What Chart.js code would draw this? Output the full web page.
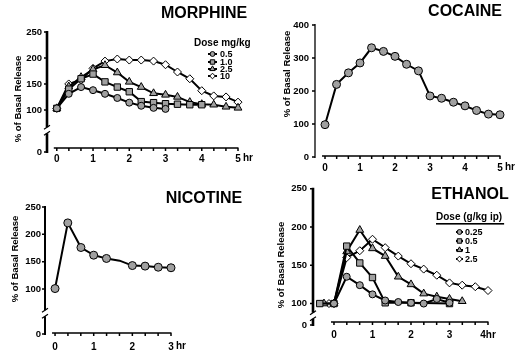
<!DOCTYPE html>
<html>
<head>
<meta charset="utf-8">
<script src="https://cdn.jsdelivr.net/npm/chart.js@4.4.0/dist/chart.umd.min.js"></script>
<style>
html, body { margin: 0; padding: 0; background: #fff; }
#fig { position: relative; width: 516px; height: 354px; }
#fig canvas { position: absolute; }
</style>
</head>
<body>
<div id="fig">
  <canvas id="morphineChart" width="258" height="177" style="left:0;top:0;width:258px;height:177px"></canvas>
  <canvas id="cocaineChart" width="258" height="177" style="left:258px;top:0;width:258px;height:177px"></canvas>
  <canvas id="nicotineChart" width="258" height="177" style="left:0;top:177px;width:258px;height:177px"></canvas>
  <canvas id="ethanolChart" width="258" height="177" style="left:258px;top:177px;width:258px;height:177px"></canvas>
</div>
<script>
// Dopamine release panels (4 drugs), % of basal release vs time

const FONT = "'Liberation Sans', Arial, Helvetica, sans-serif";
const GRAY = '#a0a0a0';

// --- Morphine (20 min samples) ---
const morphineTime = [0, 0.33, 0.67, 1, 1.33, 1.67, 2, 2.33, 2.67, 3, 3.33, 3.67, 4, 4.33, 4.67, 5];
const morphine05 = [103, 131, 144, 138, 131, 123, 114, 108, 104, 102];
const morphine1 = [103, 140, 160, 169, 154, 144, 135, 116, 114, 112, 111, 110, 110];
const morphine25 = [103, 145, 163, 178, 186, 172, 154, 144, 132, 129, 125, 115, 111, 110, 106, 104];
const morphine10 = [103, 150, 158, 180, 194, 198, 196, 196, 194, 187, 173, 160, 137, 127, 125, 115];
const morphineDoses = ['0.5', '1.0', '2.5', '10'];
const morphineYTicks = [0, 100, 150, 200, 250];
const morphineXLabels = [0, 1, 2, 3, 4, 5];

// --- Cocaine ---
const cocaineTime = [0, 0.33, 0.67, 1, 1.33, 1.67, 2, 2.33, 2.67, 3, 3.33, 3.67, 4, 4.33, 4.67, 5];
const cocaine = [98, 220, 255, 285, 331, 320, 305, 281, 261, 185, 178, 166, 155, 141, 130, 128];
const cocaineYTicks = [0, 100, 200, 300, 400];
const cocaineXLabels = [0, 1, 2, 3, 4, 5];

// --- Nicotine ---
const nicotineTime = [0, 0.33, 0.67, 1, 1.33, 1.67, 2, 2.33, 2.67, 3];
const nicotine = [101, 221, 176, 162, 156, 152, 143, 142, 140, 139];
const nicotineYTicks = [0, 100, 150, 200, 250];
const nicotineXLabels = [0, 1, 2, 3];

// --- Ethanol (g/kg ip) ---
const ethanolTime025 = [0, 0.33, 0.67, 1, 1.33, 1.67, 2, 2.33, 2.67, 3];
const ethanol025 = [100, 135, 124, 112, 104, 102, 101, 100, 106, 101];
const ethanolTime05 = [-0.37, 0, 0.33, 0.67, 1, 1.33, 2, 3];
const ethanol05 = [100, 100, 175, 153, 134, 101, 101, 100];
const ethanolTime1 = [-0.26, 0, 0.33, 0.67, 1, 1.33, 1.67, 2, 2.33, 2.67, 3, 3.33];
const ethanol1 = [100, 100, 168, 196, 172, 162, 135, 125, 113, 109, 106, 103];
const ethanolTime25 = [-0.13, 0, 0.33, 0.67, 1, 1.33, 1.67, 2, 2.33, 2.67, 3, 3.33, 3.67, 4];
const ethanol25 = [100, 100, 160, 169, 184, 173, 162, 152, 145, 137, 127, 124, 122, 117];
const ethanolDoses = ['0.25', '0.5', '1', '2.5'];
const ethanolYTicks = [0, 100, 150, 200, 250];
const ethanolXLabels = [0, 1, 2, 3, 4];
const ethanolXText = ['0', '1', '2', '3', '4hr'];

// marker styles, one per dose level
const MARKERS = [
    { pointStyle: 'circle', radius: 3.5, fill: GRAY },
    { pointStyle: 'rect', radius: 4.5, fill: GRAY },
    { pointStyle: 'triangle', radius: 4.5, fill: GRAY },
    { pointStyle: 'rectRot', radius: 4, fill: '#fff' }
];

function toXY(time, values) {
    return values.map((v, i) => ({ x: time[i], y: v }));
}

function series(label, points, marker) {
    return {
        label: label,
        data: points,
        borderColor: '#000',
        borderWidth: 2,
        tension: 0,
        clip: false,
        pointStyle: marker.pointStyle,
        pointRadius: marker.radius,
        pointBackgroundColor: marker.fill,
        pointBorderColor: '#000',
        pointBorderWidth: 1
    };
}

// every 20 min tick along the time axis
function thirdTicks(maxHr) {
    const out = [];
    for (let k = 0; k <= maxHr * 3; k++) out.push(k / 3);
    return out;
}

// axes, axis break, titles and legend
const panelPlugin = {
    id: 'panel',
    beforeDatasetsDraw(chart, args, p) {
        const ctx = chart.ctx;
        const xs = chart.scales.x, ys = chart.scales.y;
        const ax = chart.chartArea.left;
        const top = ys.getPixelForValue(ys.max);
        const bottom = ys.getPixelForValue(ys.min);
        ctx.save();
        ctx.strokeStyle = '#000';
        ctx.lineCap = 'butt';

        // y axis (with optional break)
        ctx.lineWidth = p.yAxisWidth;
        ctx.beginPath();
        if (p.breakValue) {
            const bp = ys.getPixelForValue(p.breakValue);
            ctx.moveTo(ax, top - 1); ctx.lineTo(ax, bp - 3);
            ctx.moveTo(ax, bp + 3); ctx.lineTo(ax, bottom + 1);
            ctx.stroke();
            ctx.lineWidth = 1.2;
            ctx.beginPath();
            [bp - 3, bp + 3].forEach(c => {
                ctx.moveTo(ax - 3, c + 2);
                ctx.lineTo(ax + 3, c - 2);
            });
        } else {
            ctx.moveTo(ax, top - 1); ctx.lineTo(ax, bottom + 1);
        }
        ctx.stroke();

        // y tick marks
        ctx.lineWidth = 1.5;
        ctx.beginPath();
        ys.ticks.forEach(t => {
            const y = ys.getPixelForValue(t.value);
            ctx.moveTo(ax - 3, y); ctx.lineTo(ax, y);
        });
        ctx.stroke();

        // x axis, offset from the y axis
        const y0 = chart.chartArea.bottom - p.xLift;
        ctx.lineWidth = 1.5;
        ctx.beginPath();
        ctx.moveTo(xs.getPixelForValue(0) - 3, y0);
        ctx.lineTo(xs.getPixelForValue(xs.max) + 0.5, y0);
        xs.ticks.forEach(t => {
            const x = xs.getPixelForValue(t.value);
            ctx.moveTo(x, y0); ctx.lineTo(x, y0 + 3);
        });
        ctx.stroke();
        ctx.restore();
    },
    afterDraw(chart, args, p) {
        const ctx = chart.ctx;
        const xs = chart.scales.x;
        ctx.save();
        ctx.fillStyle = '#000';

        ctx.font = 'bold 16px ' + FONT;
        ctx.textAlign = 'center';
        ctx.textBaseline = 'middle';
        ctx.fillText(p.title, p.titleX, p.titleY);

        ctx.save();
        ctx.translate(p.yTitleX, p.yTitleY);
        ctx.rotate(-Math.PI / 2);
        ctx.font = 'bold 9.5px ' + FONT;
        ctx.fillText('% of Basal Release', 0, 0);
        ctx.restore();

        if (p.xUnit) {
            ctx.font = 'bold 10px ' + FONT;
            ctx.textAlign = 'left';
            ctx.textBaseline = 'top';
            ctx.fillText(p.xUnit, xs.getPixelForValue(xs.max) + 5, xs.top + p.xPad);
        }

        const lg = p.legend;
        if (lg) {
            ctx.font = 'bold 10px ' + FONT;
            ctx.textAlign = 'left';
            ctx.textBaseline = 'middle';
            ctx.fillText(lg.title, lg.x, lg.y);
            if (lg.underline) {
                const w = ctx.measureText(lg.title).width;
                ctx.fillRect(lg.x, lg.y + 6, w + 2, 1.6);
            }
            ctx.font = 'bold 9px ' + FONT;
            chart.data.datasets.forEach((ds, i) => {
                const y = lg.rows[i];
                ctx.strokeStyle = '#000';
                ctx.lineWidth = 2;
                ctx.beginPath();
                ctx.moveTo(lg.sample[0], y); ctx.lineTo(lg.sample[1], y);
                ctx.stroke();
                ctx.lineWidth = 1;
                ctx.fillStyle = ds.pointBackgroundColor;
                Chart.helpers.drawPoint(ctx, {
                    pointStyle: ds.pointStyle, radius: ds.pointRadius * 0.7, rotation: 0, borderWidth: 1
                }, (lg.sample[0] + lg.sample[1]) / 2, y);
                ctx.fillStyle = '#000';
                ctx.fillText(ds.label, lg.textX, y + 0.5);
            });
        }
        ctx.restore();
    }
};

function buildChart(id, datasets, p) {
    const tickFont = { family: FONT, size: 9.5, weight: 'bold' };
    new Chart(document.getElementById(id), {
        type: 'line',
        data: { datasets: datasets },
        options: {
            responsive: false,
            animation: false,
            layout: { padding: p.padding },
            plugins: {
                legend: { display: false },
                tooltip: { enabled: false },
                panel: p
            },
            scales: {
                x: {
                    type: 'linear',
                    min: p.xMin,
                    max: p.xMax,
                    grid: { display: false, drawTicks: false },
                    border: { display: false },
                    afterFit: s => { s.height = p.xHeight; },
                    afterBuildTicks: s => { s.ticks = thirdTicks(p.xMax).map(v => ({ value: v })); },
                    ticks: {
                        autoSkip: false,
                        maxRotation: 0,
                        padding: p.xPad,
                        color: '#000',
                        font: { family: FONT, size: 10, weight: 'bold' },
                        callback: v => {
                            const i = p.xLabels.findIndex(l => Math.abs(l - v) < 1e-6);
                            if (i < 0) return '';
                            return p.xText ? p.xText[i] : String(p.xLabels[i]);
                        }
                    }
                },
                y: {
                    type: 'linear',
                    min: p.yMin,
                    max: p.yMax,
                    grid: { display: false, drawTicks: false },
                    border: { display: false },
                    afterFit: s => { s.width = p.yWidth; },
                    afterBuildTicks: s => { s.ticks = p.yTicks.map(v => ({ value: Math.max(v, p.yMin) })); },
                    ticks: {
                        padding: p.yPad,
                        color: '#000',
                        font: tickFont,
                        callback: v => (v === p.yMin ? '0' : String(v))
                    }
                }
            }
        },
        plugins: [panelPlugin]
    });
}

// Morphine
buildChart('morphineChart', [
    series(morphineDoses[0], toXY(morphineTime, morphine05), MARKERS[0]),
    series(morphineDoses[1], toXY(morphineTime, morphine1), MARKERS[1]),
    series(morphineDoses[2], toXY(morphineTime, morphine25), MARKERS[2]),
    series(morphineDoses[3], toXY(morphineTime, morphine10), MARKERS[3])
], {
    padding: { left: 0, right: 20, top: 32, bottom: 0 },
    yWidth: 47, xHeight: 25, xPad: 1, yPad: 5,
    xMin: -0.27, xMax: 5, yMin: 19, yMax: 250,
    yTicks: morphineYTicks, xLabels: morphineXLabels, xUnit: 'hr',
    breakValue: 61, yAxisWidth: 2.6, xLift: 4,
    title: 'MORPHINE', titleX: 204, titleY: 14,
    yTitleX: 18, yTitleY: 99,
    legend: { title: 'Dose mg/kg', x: 194, y: 43, rows: [54, 62, 69, 76], sample: [208, 217], textX: 220 }
});

// Cocaine
buildChart('cocaineChart', [
    series('cocaine', toXY(cocaineTime, cocaine), { pointStyle: 'circle', radius: 4, fill: GRAY })
], {
    padding: { left: 0, right: 16, top: 25, bottom: 0 },
    yWidth: 57, xHeight: 20, xPad: 5, yPad: 6,
    xMin: -0.286, xMax: 5, yMin: 0, yMax: 400,
    yTicks: cocaineYTicks, xLabels: cocaineXLabels, xUnit: 'hr',
    yAxisWidth: 1.3, xLift: 1,
    title: 'COCAINE', titleX: 207, titleY: 12,
    yTitleX: 29, yTitleY: 74
});

// Nicotine
buildChart('nicotineChart', [
    Object.assign(series('nicotine', toXY(nicotineTime, nicotine), { pointStyle: 'circle', radius: 4, fill: GRAY }), {
        pointRadius: c => (c.dataIndex === 5 ? 0 : 4)
    })
], {
    padding: { left: 0, right: 87, top: 30, bottom: 0 },
    yWidth: 45, xHeight: 20, xPad: 7, yPad: 4,
    xMin: -0.26, xMax: 3, yMin: 18, yMax: 250,
    yTicks: nicotineYTicks, xLabels: nicotineXLabels, xUnit: 'hr',
    breakValue: 56, yAxisWidth: 2, xLift: 1,
    title: 'NICOTINE', titleX: 204, titleY: 22,
    yTitleX: 15, yTitleY: 82
});

// Ethanol
buildChart('ethanolChart', [
    series(ethanolDoses[0], toXY(ethanolTime025, ethanol025), MARKERS[0]),
    series(ethanolDoses[1], toXY(ethanolTime05, ethanol05), MARKERS[1]),
    series(ethanolDoses[2], toXY(ethanolTime1, ethanol1), MARKERS[2]),
    series(ethanolDoses[3], toXY(ethanolTime25, ethanol25), MARKERS[3])
], {
    padding: { left: 0, right: 28, top: 4, bottom: 0 },
    yWidth: 55, xHeight: 29, xPad: 4, yPad: 6,
    xMin: -0.545, xMax: 4, yMin: 72, yMax: 250,
    yTicks: ethanolYTicks, xLabels: ethanolXLabels, xText: ethanolXText,
    breakValue: 84, yAxisWidth: 2.6, xLift: 3,
    title: 'ETHANOL', titleX: 212, titleY: 18,
    yTitleX: 23, yTitleY: 88,
    legend: { title: 'Dose (g/kg ip)', x: 178, y: 40, underline: true, rows: [55, 64, 73, 82], sample: [198, 205], textX: 207 }
});
</script>
</body>
</html>
